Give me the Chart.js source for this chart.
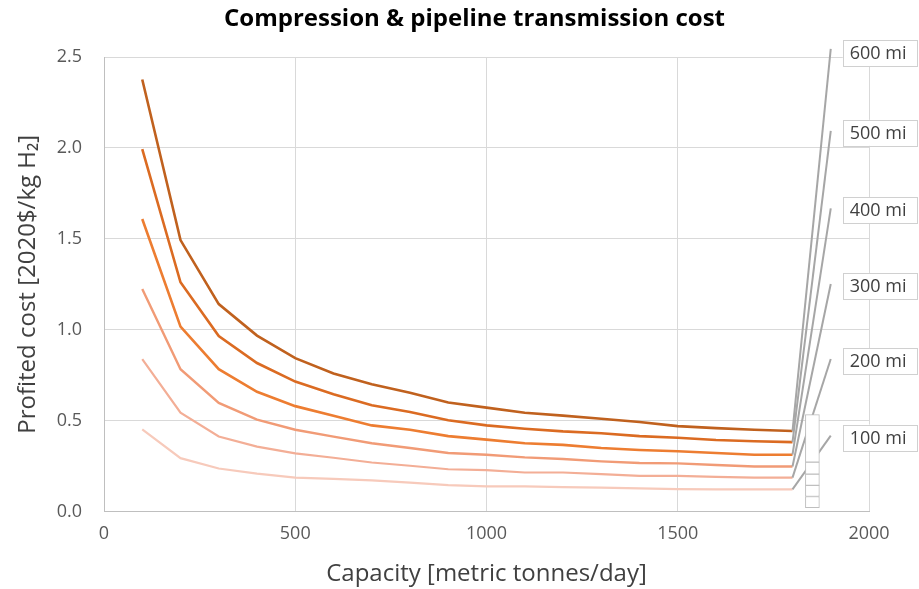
<!DOCTYPE html>
<html>
<head>
<meta charset="utf-8">
<script src="https://cdn.jsdelivr.net/npm/chart.js@4"></script>
<style>
  html, body { margin: 0; padding: 0; background: #fff; }
  #wrap { width: 919px; height: 589px; }
</style>
</head>
<body>
<div id="wrap"><canvas id="c" width="919" height="589"></canvas></div>
<script>
// ---- data ----
const chartTitle = 'Compression & pipeline transmission cost';
const capacities = [100,200,300,400,500,600,700,800,900,1000,1100,1200,1300,1400,1500,1600,1700,1800];
const cost100mi = [0.452,0.294,0.237,0.209,0.187,0.180,0.172,0.159,0.146,0.139,0.139,0.135,0.132,0.128,0.124,0.122,0.122,0.122];
const cost200mi = [0.839,0.544,0.413,0.357,0.320,0.296,0.270,0.252,0.233,0.228,0.215,0.215,0.206,0.196,0.196,0.191,0.187,0.187];
const cost300mi = [1.224,0.783,0.598,0.506,0.450,0.412,0.376,0.350,0.322,0.313,0.298,0.289,0.276,0.267,0.265,0.256,0.248,0.248];
const cost400mi = [1.609,1.017,0.783,0.659,0.580,0.527,0.474,0.450,0.415,0.396,0.376,0.367,0.350,0.339,0.332,0.322,0.313,0.313];
const cost500mi = [1.993,1.261,0.965,0.817,0.715,0.645,0.585,0.548,0.502,0.474,0.456,0.441,0.431,0.415,0.406,0.394,0.387,0.382];
const cost600mi = [2.376,1.493,1.141,0.968,0.844,0.760,0.700,0.654,0.600,0.572,0.544,0.528,0.511,0.493,0.470,0.459,0.450,0.443];
const seriesLabels = ['100 mi','200 mi','300 mi','400 mi','500 mi','600 mi'];
const leaderX = 1900;
const leaderEnds = [0.418, 0.839, 1.252, 1.668, 2.094, 2.545];
const boxX = 1852;
const boxEdges = [0.021, 0.083, 0.144, 0.206, 0.272, 0.533];
const xTicks = [0, 500, 1000, 1500, 2000];
const yTicks = [0.0, 0.5, 1.0, 1.5, 2.0, 2.5];

// ---- styles ----
const allSeries = [cost100mi, cost200mi, cost300mi, cost400mi, cost500mi, cost600mi];
const lineColors = ['#F7CABB', '#F3AE96', '#F19B76', '#ED7D31', '#DB6B22', '#C0611E'];
const lineWidths = [2.2, 2.2, 2.4, 2.6, 2.6, 2.6];
const FONT = "'Open Sans', Lato, 'DejaVu Sans', sans-serif";

const datasets = [];
allSeries.forEach((vals, i) => {
  datasets.push({
    type: 'line',
    label: seriesLabels[i],
    data: capacities.map((c, j) => ({ x: c, y: vals[j] })),
    borderColor: lineColors[i],
    borderWidth: lineWidths[i],
    pointRadius: 0,
    tension: 0,
    fill: false,
    order: 2
  });
});
allSeries.forEach((vals, i) => {
  datasets.push({
    type: 'line',
    label: 'leader ' + seriesLabels[i],
    isLeader: true,
    labelText: seriesLabels[i],
    data: [{ x: capacities[capacities.length - 1], y: vals[vals.length - 1] }, { x: leaderX, y: leaderEnds[i] }],
    borderColor: '#A6A6A6',
    borderWidth: 2,
    pointRadius: 0,
    fill: false,
    clip: false,
    order: 1
  });
});
const boxRanges = [];
for (let k = 0; k < boxEdges.length - 1; k++) boxRanges.push({ x: boxX, y: [boxEdges[k], boxEdges[k + 1]] });
datasets.push({
  type: 'bar',
  label: 'box',
  data: boxRanges,
  backgroundColor: '#FFFFFF',
  borderColor: '#BFBFBF',
  borderWidth: 1,
  borderSkipped: false,
  barThickness: 14,
  order: 0
});

const labelBoxes = {
  id: 'labelBoxes',
  afterDatasetsDraw(chart) {
    const ctx = chart.ctx;
    ctx.save();
    chart.data.datasets.forEach((ds, i) => {
      if (!ds.isLeader) return;
      const meta = chart.getDatasetMeta(i);
      const p = meta.data[1];
      const w = 74, h = 26;
      const left = p.x + 12;
      let cy = p.y + 2;
      if (cy - h / 2 < 40) cy = 40 + h / 2;
      ctx.fillStyle = '#FFFFFF';
      ctx.fillRect(left, cy - h / 2, w, h);
      ctx.strokeStyle = '#D0D0D0';
      ctx.lineWidth = 1;
      ctx.strokeRect(Math.round(left) + 0.5, Math.round(cy - h / 2) + 0.5, w, h);
      ctx.fillStyle = '#404040';
      ctx.font = "18px " + FONT;
      ctx.textBaseline = 'middle';
      ctx.textAlign = 'left';
      ctx.fillText(ds.labelText, left + 7, cy + 1);
    });
    ctx.restore();
  },
  afterDraw(chart) {
    const ctx = chart.ctx;
    ctx.save();
    ctx.fillStyle = '#000000';
    ctx.font = "bold 24px " + FONT;
    ctx.textAlign = 'center';
    ctx.textBaseline = 'middle';
    ctx.fillText(chartTitle, chart.width / 2 + 15, 19);
    ctx.restore();
  }
};

new Chart(document.getElementById('c'), {
  type: 'line',
  data: { datasets },
  plugins: [labelBoxes],
  options: {
    responsive: false,
    animation: false,
    layout: { padding: { top: 57, right: 50, bottom: 0, left: 14 } },
    plugins: {
      legend: { display: false },
      tooltip: { enabled: false },
      title: { display: false }
    },
    scales: {
      x: {
        type: 'linear',
        offset: false,
        min: 0, max: 2000,
        afterBuildTicks: (axis) => { axis.ticks = xTicks.map(v => ({ value: v })); },
        ticks: { color: '#595959', font: { family: FONT, size: 18 }, padding: 11, maxRotation: 0, callback: (v) => String(v) },
        grid: { color: '#D9D9D9', lineWidth: 1, drawTicks: false, offset: false },
        border: { color: '#BFBFBF', width: 1 },
        title: { display: true, text: 'Capacity [metric tonnes/day]', color: '#404040', font: { family: FONT, size: 24 }, padding: { top: 5, bottom: 0 } }
      },
      y: {
        type: 'linear',
        min: 0, max: 2.5,
        afterBuildTicks: (axis) => { axis.ticks = yTicks.map(v => ({ value: v })); },
        afterFit: (scale) => { scale.width = 90; },
        ticks: { color: '#595959', font: { family: FONT, size: 18 }, padding: 22, callback: (v) => Number(v).toFixed(1) },
        grid: { color: '#D9D9D9', lineWidth: 1, drawTicks: false },
        border: { color: '#BFBFBF', width: 1 },
        title: { display: true, text: 'Profited cost [2020$/kg H\u2082]', color: '#404040', font: { family: FONT, size: 24 }, padding: { top: 0, bottom: 0 } }
      }
    }
  }
});
</script>
</body>
</html>
